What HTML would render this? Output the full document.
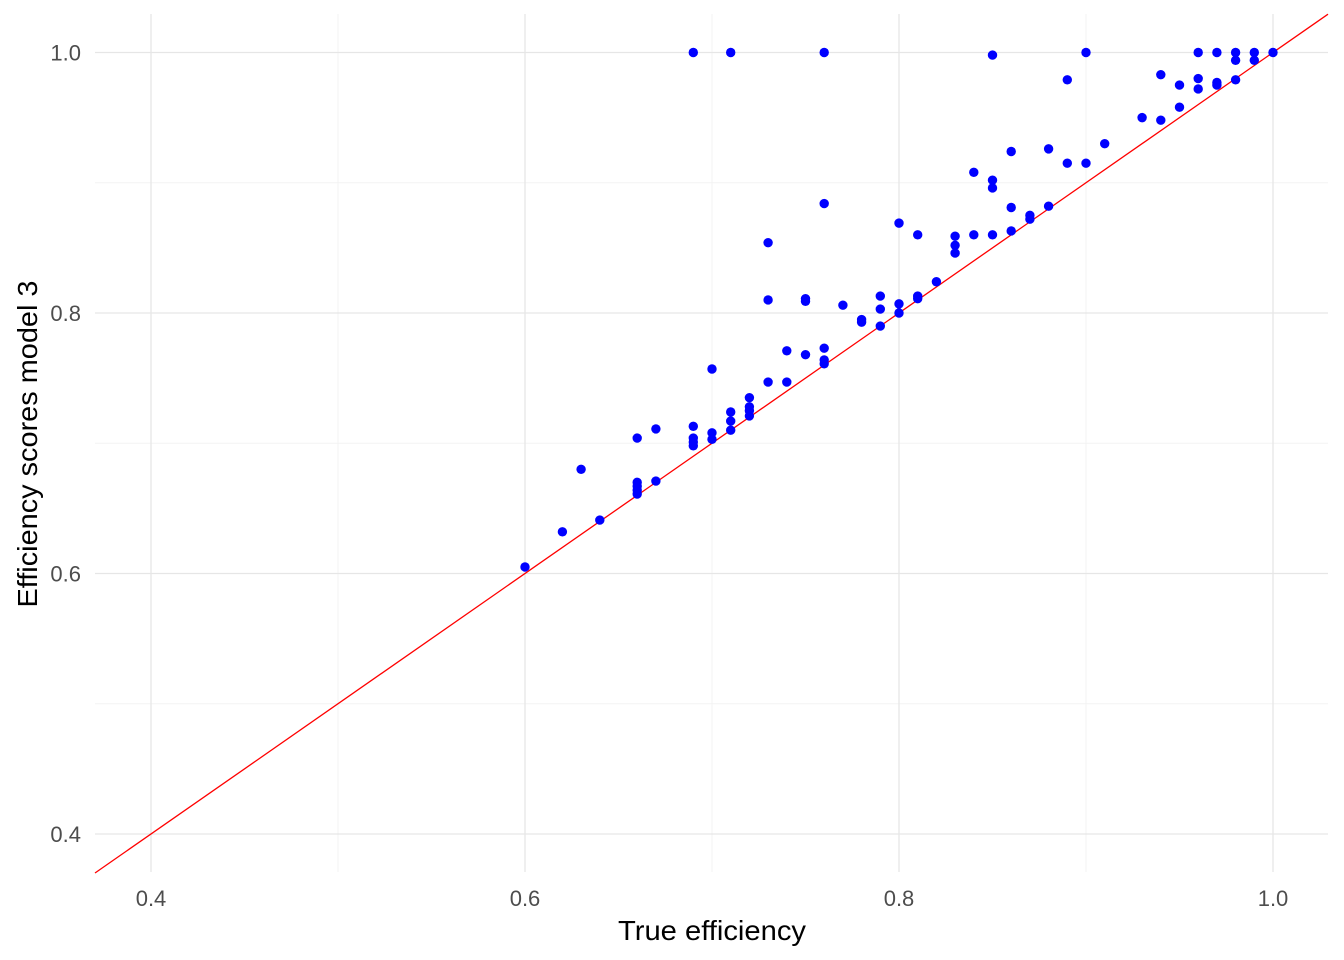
<!DOCTYPE html>
<html><head><meta charset="utf-8"><style>
html,body{margin:0;padding:0;background:#fff;}
svg{display:block;font-family:"Liberation Sans",Arial,sans-serif;}
</style></head><body>
<svg id="chart" width="1344" height="960" xmlns="http://www.w3.org/2000/svg">
<g id="grid"></g>
<g id="line"></g>
<g id="pts"></g>
<g id="ticks"></g>
<text x="712" y="940" text-anchor="middle" font-size="28" textLength="188" lengthAdjust="spacingAndGlyphs" fill="#000">True efficiency</text>
<text transform="translate(37,444) rotate(-90)" text-anchor="middle" font-size="28" textLength="327" lengthAdjust="spacingAndGlyphs" fill="#000">Efficiency scores model 3</text>
</svg>
<script>
const trueEff = [0.69,0.71,0.76,0.85,0.90,0.89,0.96,0.97,0.98,0.99,1.00,0.94,0.95,0.96,0.96,0.97,0.97,0.98,0.98,0.99,0.95,0.93,0.94,0.91,0.88,0.86,0.89,0.90,0.84,0.85,0.85,0.76,0.86,0.88,0.87,0.87,0.80,0.81,0.84,0.85,0.86,0.83,0.83,0.83,0.73,0.82,0.73,0.75,0.75,0.77,0.79,0.79,0.80,0.80,0.81,0.81,0.78,0.78,0.79,0.74,0.75,0.76,0.76,0.76,0.70,0.73,0.74,0.72,0.72,0.72,0.72,0.71,0.71,0.71,0.69,0.70,0.70,0.69,0.69,0.69,0.67,0.66,0.63,0.67,0.66,0.66,0.66,0.66,0.64,0.62,0.60];
const model3 = [1.0,1.0,1.0,0.998,1.0,0.979,1.0,1.0,1.0,1.0,1.0,0.983,0.975,0.98,0.972,0.977,0.975,0.994,0.979,0.994,0.958,0.95,0.948,0.930,0.926,0.924,0.915,0.915,0.908,0.902,0.896,0.884,0.881,0.882,0.875,0.872,0.869,0.860,0.860,0.860,0.863,0.859,0.852,0.846,0.854,0.824,0.810,0.811,0.809,0.806,0.813,0.803,0.807,0.800,0.813,0.811,0.795,0.793,0.790,0.771,0.768,0.773,0.764,0.761,0.757,0.747,0.747,0.735,0.728,0.725,0.721,0.724,0.717,0.710,0.713,0.708,0.703,0.704,0.701,0.698,0.711,0.704,0.680,0.671,0.670,0.667,0.664,0.661,0.641,0.632,0.605];
const majorTicks = [0.4,0.6,0.8,1.0];
const minorTicks = [0.5,0.7,0.9];
const tickLabels = ["0.4","0.6","0.8","1.0"];
const NS="http://www.w3.org/2000/svg";
const X0=95,X1=1328,Y0=14,Y1=872;
const sx=v=>151+(v-0.4)*1870;
const sy=v=>834-(v-0.4)*1302.5;
const ix=p=>0.4+(p-151)/1870;
function mk(tag,attrs,parent){const e=document.createElementNS(NS,tag);for(const k in attrs)e.setAttribute(k,attrs[k]);parent.appendChild(e);return e;}
const grid=document.getElementById('grid');
minorTicks.forEach(t=>{
  let l=mk('line',{x1:sx(t),x2:sx(t),y1:Y0,y2:Y1,stroke:'#f3f3f3','stroke-width':1},grid);
  
  
  l=mk('line',{x1:X0,x2:X1,y1:sy(t),y2:sy(t),stroke:'#f3f3f3','stroke-width':1},grid);
  
  
});
const ticks=document.getElementById('ticks');
majorTicks.forEach((t,i)=>{
  let l=mk('line',{x1:sx(t),x2:sx(t),y1:Y0,y2:Y1,stroke:'#e6e6e6','stroke-width':1.3},grid);
  
  
  l=mk('line',{x1:X0,x2:X1,y1:sy(t),y2:sy(t),stroke:'#e6e6e6','stroke-width':1.3},grid);
  
  
  let tx=mk('text',{x:sx(t),y:906,'text-anchor':'middle','font-size':22,fill:'#4d4d4d'},ticks);
  tx.textContent=tickLabels[i];
  
  
  tx=mk('text',{x:81,y:sy(t)+8,'text-anchor':'end','font-size':22,fill:'#4d4d4d'},ticks);
  tx.textContent=tickLabels[i];
  
  
});
const lv0=ix(X0),lv1=ix(X1);
const rl=mk('line',{x1:sx(lv0),y1:sy(lv0),x2:sx(lv1),y2:sy(lv1),stroke:'#ff0000','stroke-width':1.3},document.getElementById('line'));


const pts=document.getElementById('pts');
trueEff.forEach((v,i)=>{
  const c=mk('circle',{cx:sx(v),cy:sy(model3[i]),r:4.7,fill:'#0000ff'},pts);
  
  
});
</script>
</body></html>
